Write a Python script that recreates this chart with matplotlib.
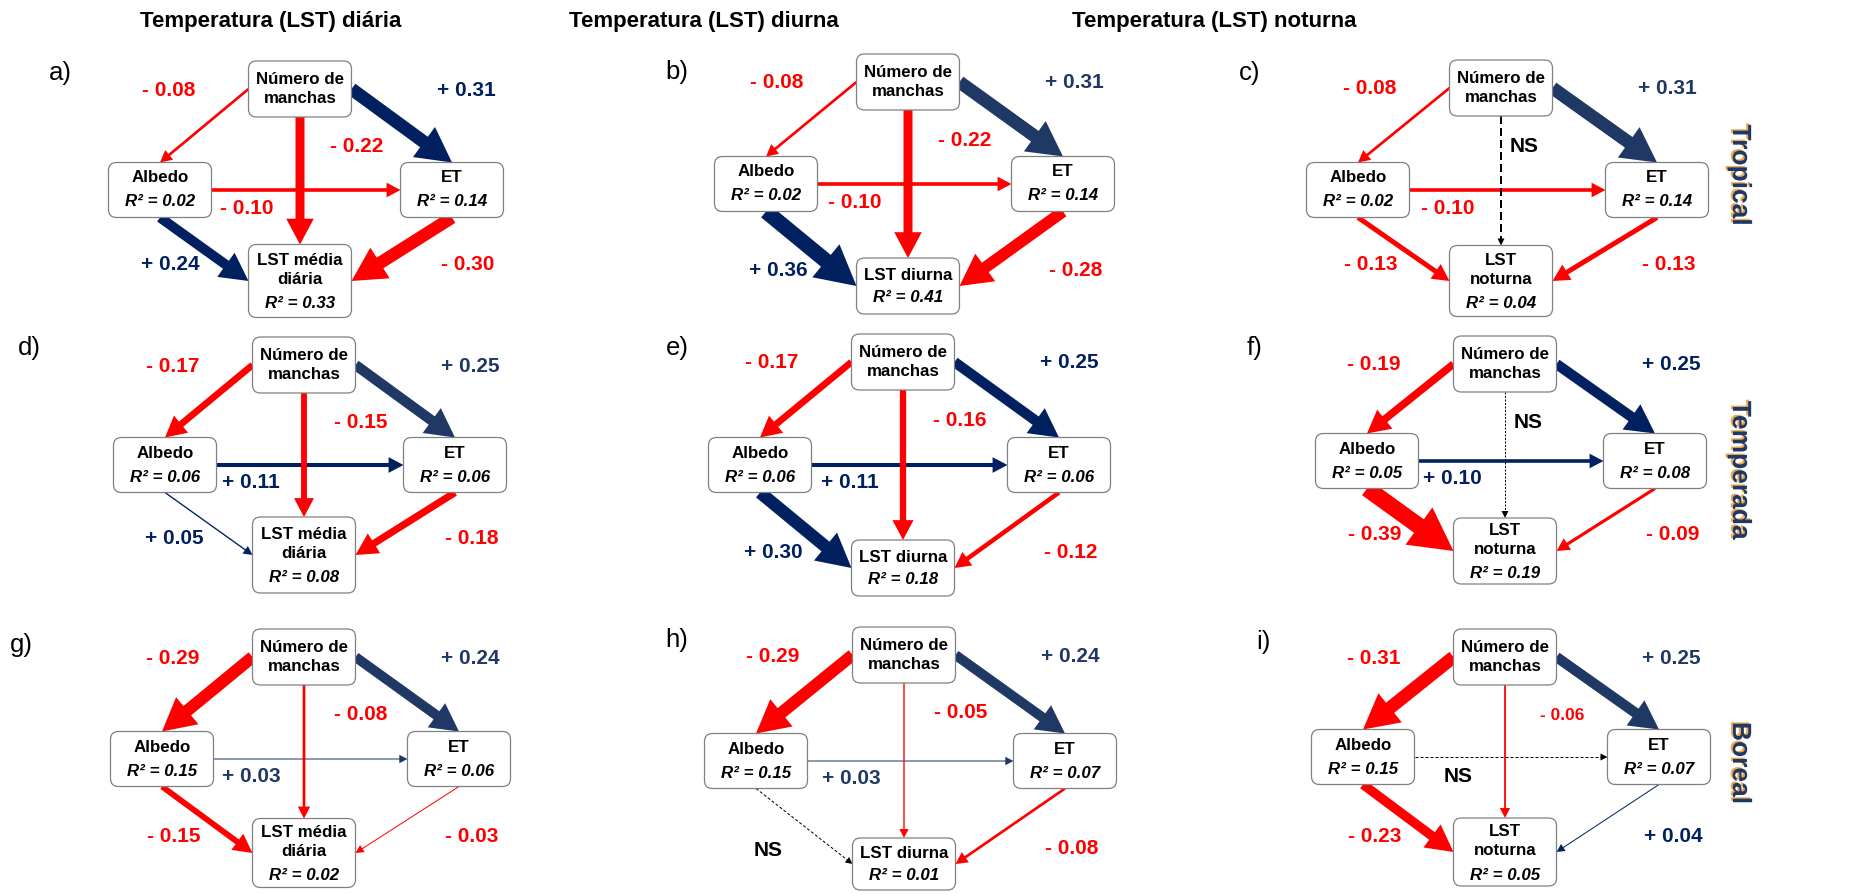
import math
import matplotlib
matplotlib.use('Agg')
import matplotlib.pyplot as plt
import matplotlib.patheffects as pe
from matplotlib import font_manager
from matplotlib.patches import FancyBboxPatch, FancyArrow


def pick_font(names):
    for n in names:
        try:
            font_manager.findfont(n, fallback_to_default=False)
            return n
        except ValueError:
            pass
    return 'DejaVu Sans'


NARROW = pick_font(['Liberation Sans Narrow', 'Liberation Sans', 'DejaVu Sans'])
REGULAR = pick_font(['Liberation Sans', 'DejaVu Sans'])

# ---- data ----
col_titles = ['Temperatura (LST) diária', 'Temperatura (LST) diurna', 'Temperatura (LST) noturna']
row_titles = ['Tropical', 'Temperada', 'Boreal']
panel_letters = ['a)', 'b)', 'c)', 'd)', 'e)', 'f)', 'g)', 'h)', 'i)']
top_name = 'Número de\nmanchas'
lst_names = ['LST média\ndiária', 'LST diurna', 'LST\nnoturna']

# path order: N->Albedo, N->ET, N->LST, Albedo->ET, Albedo->LST, ET->LST (None = NS)
coef_a = [-0.08, 0.31, -0.22, -0.10, 0.24, -0.30]
coef_b = [-0.08, 0.31, -0.22, -0.10, 0.36, -0.28]
coef_c = [-0.08, 0.31, None, -0.10, -0.13, -0.13]
coef_d = [-0.17, 0.25, -0.15, 0.11, 0.05, -0.18]
coef_e = [-0.17, 0.25, -0.16, 0.11, 0.30, -0.12]
coef_f = [-0.19, 0.25, None, 0.10, -0.39, -0.09]
coef_g = [-0.29, 0.24, -0.08, 0.03, -0.15, -0.03]
coef_h = [-0.29, 0.24, -0.05, 0.03, None, -0.08]
coef_i = [-0.31, 0.25, -0.06, None, -0.23, 0.04]
coefs = [coef_a, coef_b, coef_c, coef_d, coef_e, coef_f, coef_g, coef_h, coef_i]

r2_albedo = [0.02, 0.02, 0.02, 0.06, 0.06, 0.05, 0.15, 0.15, 0.15]
r2_et = [0.14, 0.14, 0.14, 0.06, 0.06, 0.08, 0.06, 0.07, 0.07]
r2_lst = [0.33, 0.41, 0.04, 0.08, 0.18, 0.19, 0.02, 0.01, 0.05]

# ---- layout (pixels, y down) ----
top_pos = [(300, 89), (908, 82), (1501, 88), (304, 365), (903, 362), (1505, 364),
           (304, 657), (904, 655), (1505, 657)]
side_pos = [(160, 452, 190), (766, 1063, 184), (1358, 1657, 190), (165, 455, 465),
            (760, 1059, 465), (1367, 1655, 461), (162, 459, 759), (756, 1065, 761),
            (1363, 1659, 757)]
lst_pos = [(281, 73), (286, 56), (281, 71), (555, 76), (568, 56), (551, 66),
           (853, 69), (864, 52), (852, 68)]
letter_pos = [(60, 73), (677, 72), (1250, 73), (29, 348), (677, 348), (1255, 348),
              (21, 645), (677, 640), (1263, 642)]
header_x = [271, 704, 1214]
row_y = [175, 470, 763]
BW, BH = 103, 56

RED = '#FF0000'
NAVY = '#002060'
SLATE = '#203864'
slate_edges = {(1, 1), (2, 1), (3, 1), (6, 1), (7, 1), (8, 1), (6, 3), (7, 3)}
ns_style = {(2, 2): (2.0, (4, 2)), (5, 2): (1.0, (2, 1.5)), (7, 4): (1.0, (3, 2)),
            (8, 3): (1.0, (3, 2))}
small_labels = {(8, 2)}

FS_BOX = 12.2
FS_NUM = 15
FS_HEAD = 16

fig = plt.figure(figsize=(18.51, 8.94), dpi=100)
ax = fig.add_axes([0, 0, 1, 1])
ax.set_xlim(0, 1851)
ax.set_ylim(894, 0)
ax.axis('off')


def draw_box(cx, cy, w, h):
    r = 8
    ax.add_patch(FancyBboxPatch((cx - w / 2 + r, cy - h / 2 + r), w - 2 * r, h - 2 * r,
                                boxstyle='round,pad=%d' % r, fc='white', ec='#808080',
                                lw=0.9, zorder=3))


def draw_arrow(p0, p1, c, color):
    # shaft and head grow with the size of the coefficient
    w = max(1.0, 45 * (abs(c) - 0.02))
    ax.add_patch(FancyArrow(p0[0], p0[1], p1[0] - p0[0], p1[1] - p0[1], width=w,
                            head_width=2.4 * w + 6, head_length=2.2 * w + 6,
                            length_includes_head=True, color=color, lw=0, zorder=2))


def draw_ns(p0, p1, lw, dashes):
    dx, dy = p1[0] - p0[0], p1[1] - p0[1]
    L = math.hypot(dx, dy)
    ux, uy = dx / L, dy / L
    hl = 7
    ax.plot([p0[0], p1[0] - ux * hl], [p0[1], p1[1] - uy * hl], color='black',
            lw=lw * 0.72, dashes=dashes, zorder=2)
    ax.add_patch(FancyArrow(p1[0] - ux * hl, p1[1] - uy * hl, ux * hl, uy * hl, width=0.01,
                            head_width=7, head_length=hl, length_includes_head=True,
                            color='black', lw=0, zorder=2))


def fmt(c):
    return ('+ %.2f' % c) if c > 0 else ('- %.2f' % abs(c))


for j, t in enumerate(col_titles):
    ax.text(header_x[j], 21, t, family=NARROW, weight='bold', fontsize=FS_HEAD,
            ha='center', va='center')

for i, t in enumerate(row_titles):
    ax.text(1740, row_y[i], t, family=REGULAR, weight='bold', fontsize=19, rotation=270,
            ha='center', va='center', color='#1F3864',
            path_effects=[pe.withSimplePatchShadow(offset=(-1.5, 1.0),
                                                   shadow_rgbFace='#E8A040', alpha=0.9)])

for k in range(9):
    tx, ty = top_pos[k]
    ax_, ex_, sy = side_pos[k]
    ly, lh = lst_pos[k]
    col = k % 3
    boxes = {'top': (tx, ty, BW, BH), 'alb': (ax_, sy, BW, BH - 1),
             'et': (ex_, sy, BW, BH - 1), 'lst': (tx, ly, BW, lh)}

    def left(b): return (b[0] - b[2] / 2, b[1])
    def right(b): return (b[0] + b[2] / 2, b[1])
    def topc(b): return (b[0], b[1] - b[3] / 2)
    def bot(b): return (b[0], b[1] + b[3] / 2)

    B = boxes
    ends = [(left(B['top']), topc(B['alb'])),
            (right(B['top']), topc(B['et'])),
            (bot(B['top']), topc(B['lst'])),
            (right(B['alb']), left(B['et'])),
            (bot(B['alb']), left(B['lst'])),
            (bot(B['et']), right(B['lst']))]
    lbl_pos = [(tx - 131, ty + 1), (tx + 166, ty + 1), (tx + 57, ty + 58),
               (tx - 53, sy + 18), (tx - 130, ly - 16), (tx + 168, ly - 16)]

    for e in [0, 1, 3, 2, 4, 5]:
        c = coefs[k][e]
        p0, p1 = ends[e]
        lx, ly_ = lbl_pos[e]
        if c is None:
            lw, dashes = ns_style[(k, e)]
            draw_ns(p0, p1, lw, dashes)
            if e == 2:
                lx = tx + 23
            elif e == 4:
                lx, ly_ = tx - 136, ty + 196
            elif e == 3:
                lx, ly_ = tx - 47, sy + 20
            ax.text(lx, ly_, 'NS', family=NARROW, weight='bold', fontsize=FS_NUM,
                    ha='center', va='center', color='black')
            continue
        if c < 0:
            color = RED
        else:
            color = SLATE if (k, e) in slate_edges else NAVY
        draw_arrow(p0, p1, c, color)
        fs = 12.5 if (k, e) in small_labels else FS_NUM
        ax.text(lx, ly_, fmt(c), family=NARROW, weight='bold', fontsize=fs,
                ha='center', va='center', color=color)

    for name, b in boxes.items():
        draw_box(*b)

    # box texts
    ax.text(tx, ty, top_name, family=NARROW, weight='bold', fontsize=FS_BOX, ha='center',
            va='center', linespacing=1.3, zorder=4)
    for (bx, r2, name) in [(ax_, r2_albedo[k], 'Albedo'), (ex_, r2_et[k], 'ET')]:
        ax.text(bx, sy - 12, name, family=NARROW, weight='bold', fontsize=FS_BOX,
                ha='center', va='center', zorder=4)
        ax.text(bx, sy + 12, 'R² = %.2f' % r2, family=NARROW, weight='bold',
                style='italic', fontsize=FS_BOX, ha='center', va='center', zorder=4)
    lname = lst_names[col]
    if '\n' in lname:
        ax.text(tx, ly - 11, lname, family=NARROW, weight='bold', fontsize=FS_BOX,
                ha='center', va='center', linespacing=1.3, zorder=4)
        ax.text(tx, ly + 23, 'R² = %.2f' % r2_lst[k], family=NARROW, weight='bold',
                style='italic', fontsize=FS_BOX, ha='center', va='center', zorder=4)
    else:
        ax.text(tx, ly - 11, lname, family=NARROW, weight='bold', fontsize=FS_BOX,
                ha='center', va='center', zorder=4)
        ax.text(tx, ly + 12, 'R² = %.2f' % r2_lst[k], family=NARROW, weight='bold',
                style='italic', fontsize=FS_BOX, ha='center', va='center', zorder=4)

    lx, lyy = letter_pos[k]
    ax.text(lx, lyy, panel_letters[k], family=REGULAR, fontsize=18.5, ha='center',
            va='center')

fig.savefig('out.png', dpi=100)
